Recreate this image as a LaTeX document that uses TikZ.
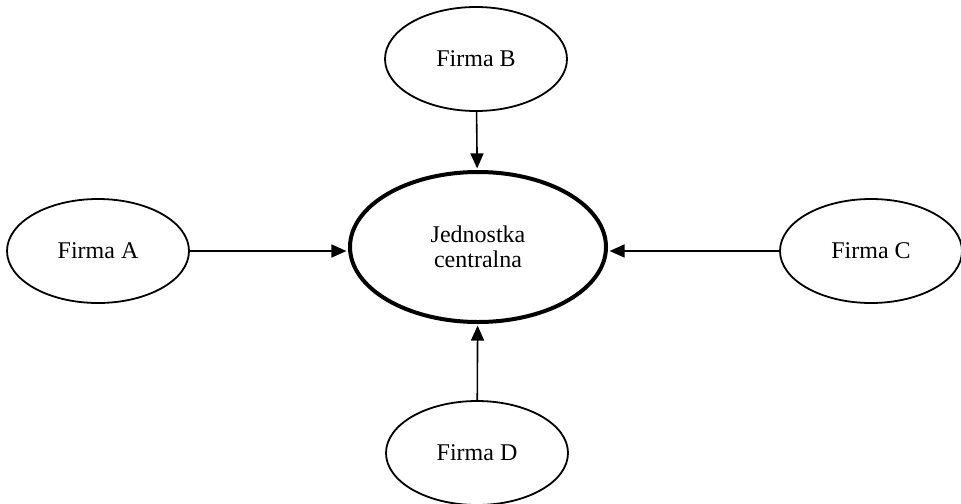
\documentclass[tikz,border=0pt]{standalone}
\usepackage{fontspec}
\setmainfont{Liberation Serif}
\usetikzlibrary{shapes.geometric,arrows.meta}

\tikzset{
	firma/.style={ellipse, draw, line width=0.9pt, minimum width=91pt, minimum height=52pt, inner sep=0pt, font=\fontsize{12}{12.5}\selectfont},
	centrum/.style={firma, line width=2pt, minimum width=128pt, minimum height=75pt, align=center},
	strz/.style={line width=0.8pt, -{Triangle[length=7.5pt,width=6.5pt]}, shorten >=0.8pt}
}

\begin{document}
\begin{tikzpicture}[x=0.5pt, y=-0.5pt]
	\useasboundingbox (0,0) rectangle (961,503);
	\node[centrum] (c) at (478,247) {Jednostka\\centralna};
	\node[firma] (a) at (98,251) {Firma A};
	\node[firma] (b) at (476,59) {Firma B};
	\node[firma] (k) at (871,251) {Firma C};
	\node[firma] (d) at (477,453) {Firma D};
	% polaczenia
	\draw[strz] (a.east) -- (a.east -| c.west);
	\draw[strz] (b) -- (c);
	\draw[strz] (k.west) -- (k.west -| c.east);
	\draw[strz] (d) -- (c);
\end{tikzpicture}
\end{document}
